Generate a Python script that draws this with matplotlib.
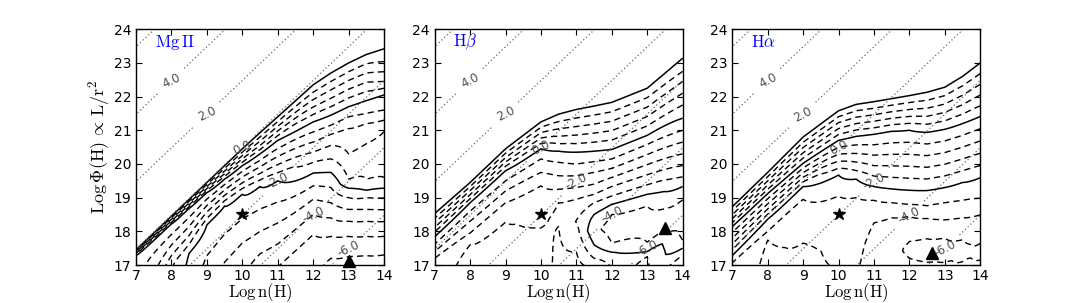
import numpy as np
import matplotlib
matplotlib.use("Agg")
import matplotlib.pyplot as plt

plt.rcParams.update({
    "font.family": "DejaVu Sans",
    "mathtext.fontset": "cm",
    "xtick.direction": "in",
    "ytick.direction": "in",
    "xtick.top": True,
    "ytick.right": True,
    "xtick.major.size": 4,
    "ytick.major.size": 4,
    "xtick.major.pad": 3,
    "xtick.labelsize": 10,
    "ytick.labelsize": 10,
    "axes.linewidth": 1.0,
})

LOG_C = 10.48  # log U = log Phi - log n - log c

# dotted lines of constant ionization parameter and where their labels sit
u_levels = [-6, -4, -2, 0, 2, 4, 6]
u_label_n = [8, 9, 10, 11, 12, 13]
u_label_u = [4, 2, 0, -2, -4, -6]

star_n, star_phi = 10.0, 18.5

# contour index: knots (log Phi, index) along columns of log n
# index 0 is the outer (upper) solid line, larger index goes toward the triangle
mg_cols = [7, 8, 8.5, 9, 9.5, 10, 10.5, 11, 12, 12.5, 13, 13.5, 14]
mg_phi = [
    [17.0, 17.28, 17.45, 17.48],
    [17.0, 18.22, 18.45, 18.48],
    [17.0, 17.35, 18.68, 18.95, 18.98],
    [17.0, 18.19, 19.15, 19.45, 19.48],
    [17.0, 18.75, 19.55, 19.95, 19.98],
    [17.0, 19.1, 19.95, 20.45, 20.48],
    [17.0, 19.33, 20.3, 20.93, 20.96],
    [17.0, 19.5, 20.7, 21.4, 21.43],
    [17.0, 17.9, 18.5, 18.95, 19.35, 19.73, 20.05, 20.35, 20.65, 20.95, 21.25, 22.35, 22.38],
    [17.0, 17.2, 17.85, 18.4, 18.85, 19.3, 19.75, 20.15, 20.55, 20.88, 21.15, 21.45, 22.7, 22.73],
    [17.0, 17.25, 17.85, 18.3, 18.65, 19.0, 19.28, 19.55, 20.3, 21.05, 21.4, 21.7, 23.0, 23.03],
    [17.0, 17.28, 17.85, 18.3, 18.65, 19.0, 19.22, 19.55, 20.6, 21.2, 21.5, 21.88, 23.25, 23.28],
    [17.0, 17.3, 17.85, 18.29, 18.64, 18.99, 19.28, 19.6, 20.96, 21.3, 21.6, 22.05, 22.25, 22.45, 22.74, 23.04, 23.42, 23.45],
]
mg_val = [
    [5.8, 5, 0, -1],
    [8.9, 5, 0, -1],
    [10.3, 10, 5, 0, -1],
    [11.3, 10, 5, 0, -1],
    [12.1, 10, 5, 0, -1],
    [12.9, 10, 5, 0, -1],
    [13.5, 10, 5, 0, -1],
    [14.0, 10, 5, 0, -1],
    [14.9, 14, 13, 12, 11, 10, 9, 8, 7, 6, 5, 0, -1],
    [15.2, 15, 14, 13, 12, 11, 10, 9, 8, 7, 6, 5, 0, -1],
    [15.4, 15, 14, 13, 12, 11, 10, 9, 8, 7, 6, 5, 0, -1],
    [15.3, 15, 14, 13, 12, 11, 10, 9, 8, 7, 6, 5, 0, -1],
    [15.1, 15, 14, 13, 12, 11, 10, 9, 8, 7, 6, 5, 4, 3, 2, 1, 0, -1],
]
mg_solid = [0, 5, 10]
mg_tri = (13.0, 17.12)

hb_cols = [7, 8, 9, 10, 10.5, 11, 11.5, 12, 13, 14]
hb_phi = [
    [17.0, 17.2, 17.4, 17.62, 17.84, 18.53, 18.56],
    [17.0, 17.6, 17.95, 18.3, 18.6, 18.85, 19.45, 19.48],
    [17.0, 18.27, 18.85, 19.2, 19.5, 19.8, 20.45, 20.48],
    [17.0, 18.1, 18.5, 18.8, 19.35, 19.75, 20.15, 20.45, 21.25, 21.28],
    [17.0, 18.15, 18.5, 18.85, 19.25, 19.65, 20.05, 20.38, 21.48, 21.51],
    [17.0, 17.38, 18.3, 18.95, 19.3, 19.65, 20.0, 20.35, 21.62, 21.65],
    [17.0, 17.2, 17.6, 18.05, 18.5, 18.85, 19.1, 19.4, 19.75, 20.07, 20.38, 21.72, 21.75],
    [17.0, 17.38, 17.65, 18.1, 18.5, 18.8, 19.05, 19.33, 19.6, 19.87, 20.15, 20.43, 21.83, 21.86],
    [17.0, 17.25, 17.4, 17.68, 18.2, 18.75, 19.1, 19.38, 19.68, 19.98, 20.28, 20.58, 20.85, 22.25, 22.28],
    [17.0, 17.3, 17.5, 17.74, 18.3, 18.93, 19.33, 19.62, 19.95, 20.3, 20.65, 21.0, 21.36, 21.75, 22.1, 22.45, 22.75, 23.14, 23.17],
]
hb_val = [
    [8.8, 8, 7, 6, 5, 0, -1],
    [9.3, 9, 8, 7, 6, 5, 0, -1],
    [9.5, 9, 8, 7, 6, 5, 0, -1],
    [9.3, 9, 8.8, 8.7, 8, 7, 6, 5, 0, -1],
    [8.8, 9.0, 9.1, 9.0, 8, 7, 6, 5, 0, -1],
    [8.7, 9.0, 10.05, 9, 8, 7, 6, 5, 0, -1],
    [9.2, 10, 11, 11.8, 11, 10, 9, 8, 7, 6, 5, 0, -1],
    [10.1, 11, 12, 12.4, 12, 11, 10, 9, 8, 7, 6, 5, 0, -1],
    [9.9, 10, 11, 12, 12.5, 12, 11, 10, 9, 8, 7, 6, 5, 0, -1],
    [9.7, 10, 11, 12, 12.5, 12, 11, 10, 9, 8, 7, 6, 5, 4, 3, 2, 1, 0, -1],
]
hb_solid = [0, 5, 11]
hb_tri = (13.5, 18.1)

ha_cols = [7, 8, 9, 10, 10.5, 11, 11.5, 12, 12.5, 13, 13.5, 14]
ha_phi = [
    [17.0, 17.28, 18.14, 18.73, 18.76],
    [17.0, 17.74, 18.0, 18.36, 19.12, 19.75, 19.78],
    [17.0, 17.65, 18.95, 19.33, 20.02, 20.8, 20.83],
    [17.0, 18.5, 19.05, 19.67, 20.7, 21.58, 21.61],
    [17.0, 18.5, 19.0, 19.55, 20.82, 21.77, 21.8],
    [17.0, 17.6, 18.25, 18.92, 19.33, 20.88, 21.85, 21.88],
    [17.0, 17.45, 18.4, 18.85, 19.26, 20.97, 21.94, 21.97],
    [17.0, 17.2, 17.45, 17.7, 18.44, 18.8, 19.22, 21.0, 22.03, 22.06],
    [17.0, 17.08, 17.4, 17.78, 18.38, 18.76, 19.21, 20.94, 22.13, 22.16],
    [17.0, 17.08, 17.4, 17.8, 18.34, 18.85, 19.3, 21.03, 22.28, 22.31],
    [17.0, 17.1, 17.4, 17.75, 18.4, 18.92, 19.45, 21.2, 22.6, 22.63],
    [17.0, 17.15, 17.4, 17.64, 18.49, 18.98, 19.59, 21.41, 23.0, 23.03],
]
ha_val = [
    [11.3, 10, 5, 0, -1],
    [12.3, 12, 11, 10, 5, 0, -1],
    [12.35, 12, 11, 10, 5, 0, -1],
    [11.95, 11.4, 11, 10, 5, 0, -1],
    [11.9, 11.5, 11, 10, 5, 0, -1],
    [12.4, 12.3, 12, 11, 10, 5, 0, -1],
    [12.6, 12.8, 12, 11, 10, 5, 0, -1],
    [12.85, 13, 13.15, 13, 12, 11, 10, 5, 0, -1],
    [12.9, 13, 13.3, 13, 12, 11, 10, 5, 0, -1],
    [12.9, 13, 13.3, 13, 12, 11, 10, 5, 0, -1],
    [12.9, 13, 13.2, 13, 12, 11, 10, 5, 0, -1],
    [12.85, 13, 13.1, 13, 12, 11, 10, 5, 0, -1],
]
ha_solid = [0, 5, 10]
ha_tri = (12.65, 17.35)


def build_grid(cols, knot_phi, knot_val):
    # columns are sampled parallel to the outer solid line so the edge stays sharp
    s = np.linspace(-9, 1.5, 1051)
    X = np.zeros((len(s), len(cols)))
    Y = np.zeros_like(X)
    Z = np.zeros_like(X)
    for j, n in enumerate(cols):
        p = np.array(knot_phi[j], dtype=float)
        v = np.array(knot_val[j], dtype=float)
        top = p[v == 0][0]
        X[:, j] = n
        Y[:, j] = top + s
        Z[:, j] = np.interp(Y[:, j], p, v)
    return X, Y, Z


panels = [
    (r"$\rm Mg\,II$", mg_cols, mg_phi, mg_val, mg_solid, mg_tri),
    (r"$\rm H\beta$", hb_cols, hb_phi, hb_val, hb_solid, hb_tri),
    (r"$\rm H\alpha$", ha_cols, ha_phi, ha_val, ha_solid, ha_tri),
]

fig = plt.figure(figsize=(10.9, 3.03), dpi=100)
lefts = [0.1248, 0.3988, 0.6718]
axes = [fig.add_axes([l, 0.1254, 0.2275, 0.778]) for l in lefts]

nn, pp = np.meshgrid(np.linspace(6.5, 14.5, 60), np.linspace(16.5, 24.5, 60))

for i, (ax, (name, cols, kp, kv, solid, tri)) in enumerate(zip(axes, panels)):
    X, Y, Z = build_grid(cols, kp, kv)
    levels = np.arange(0, int(np.floor(Z.max())) + 1)
    dashed = [l for l in levels if l not in solid]
    ax.contour(X, Y, Z, levels=dashed, colors="k", linewidths=1.0,
               linestyles=[(0, (4.5, 3.0))])
    ax.contour(X, Y, Z, levels=solid, colors="k", linewidths=1.1,
               linestyles="solid")

    cu = ax.contour(nn, pp, pp - nn - LOG_C, levels=u_levels, colors="0.4",
                    linewidths=0.9, linestyles=[(0, (1, 2))])
    spots = [(n, n + LOG_C + u) for n, u in zip(u_label_n, u_label_u)]
    ax.clabel(cu, fmt="%.1f", fontsize=8.5, inline=True, inline_spacing=3,
              manual=spots, colors="0.3")

    ax.plot(star_n, star_phi, marker="*", color="k", ms=9, ls="none")
    ax.plot(tri[0], tri[1], marker="^", color="k", ms=8, ls="none", clip_on=False)

    ax.text(0.075, 0.945, name, transform=ax.transAxes, color="blue",
            fontsize=12, ha="left", va="center")

    ax.set_xlim(7, 14)
    ax.set_ylim(17, 24)
    ax.set_xticks(range(7, 15))
    ax.set_yticks(range(17, 25))
    ax.set_xlabel(r"$\rm Log\,n(H)$", fontsize=12, labelpad=-1.5)
    if i == 0:
        ax.set_ylabel(r"$\rm Log\,\Phi(H)\,\propto\,L/r^2$", fontsize=13, labelpad=1)

fig.savefig("out.png", dpi=100)
